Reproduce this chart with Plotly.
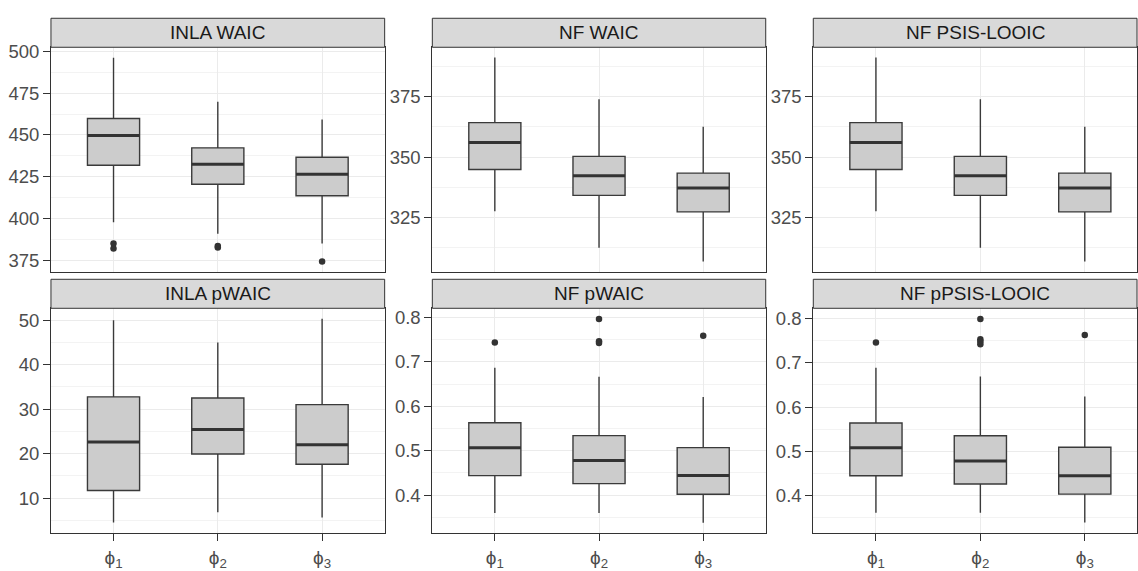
import plotly.graph_objects as go

# ---- data -----------------------------------------------------------------
categories = ["phi1", "phi2", "phi3"]
tick_labels = ["ϕ<sub>1</sub>", "ϕ<sub>2</sub>", "ϕ<sub>3</sub>"]
panel_titles = ["INLA WAIC", "NF WAIC", "NF PSIS-LOOIC",
                "INLA pWAIC", "NF pWAIC", "NF pPSIS-LOOIC"]

# INLA WAIC
inla_waic_lo = [397.8, 390.8, 385.0]
inla_waic_q1 = [431.9, 420.5, 413.6]
inla_waic_med = [449.7, 432.5, 426.5]
inla_waic_q3 = [459.9, 442.3, 436.7]
inla_waic_hi = [496.3, 469.9, 459.3]
inla_waic_out = [[385.0, 382.1], [383.6, 382.6], [374.2]]

# NF WAIC
nf_waic_lo = [327.7, 312.6, 306.9]
nf_waic_q1 = [344.9, 334.2, 327.4]
nf_waic_med = [356.0, 342.3, 337.2]
nf_waic_q3 = [364.2, 350.3, 343.4]
nf_waic_hi = [391.1, 373.9, 362.5]
nf_waic_out = [[], [], []]

# NF PSIS-LOOIC
nf_looic_lo = [327.7, 312.6, 306.9]
nf_looic_q1 = [344.9, 334.2, 327.4]
nf_looic_med = [356.0, 342.3, 337.2]
nf_looic_q3 = [364.2, 350.3, 343.4]
nf_looic_hi = [391.1, 373.9, 362.5]
nf_looic_out = [[], [], []]

# INLA pWAIC
inla_pwaic_lo = [4.5, 6.8, 5.6]
inla_pwaic_q1 = [11.7, 19.9, 17.6]
inla_pwaic_med = [22.6, 25.4, 22.0]
inla_pwaic_q3 = [32.75, 32.5, 31.0]
inla_pwaic_hi = [50.0, 45.0, 50.3]
inla_pwaic_out = [[], [], []]

# NF pWAIC
nf_pwaic_lo = [0.360, 0.360, 0.338]
nf_pwaic_q1 = [0.444, 0.426, 0.402]
nf_pwaic_med = [0.507, 0.478, 0.444]
nf_pwaic_q3 = [0.563, 0.534, 0.507]
nf_pwaic_hi = [0.687, 0.667, 0.621]
nf_pwaic_out = [[0.744], [0.797, 0.747, 0.743], [0.759]]

# NF pPSIS-LOOIC
nf_plooic_lo = [0.361, 0.361, 0.339]
nf_plooic_q1 = [0.4445, 0.426, 0.403]
nf_plooic_med = [0.508, 0.478, 0.4444]
nf_plooic_q3 = [0.564, 0.535, 0.509]
nf_plooic_hi = [0.689, 0.669, 0.624]
nf_plooic_out = [[0.746], [0.799, 0.753, 0.748, 0.742], [0.763]]

panels = [
    (inla_waic_lo, inla_waic_q1, inla_waic_med, inla_waic_q3, inla_waic_hi, inla_waic_out),
    (nf_waic_lo, nf_waic_q1, nf_waic_med, nf_waic_q3, nf_waic_hi, nf_waic_out),
    (nf_looic_lo, nf_looic_q1, nf_looic_med, nf_looic_q3, nf_looic_hi, nf_looic_out),
    (inla_pwaic_lo, inla_pwaic_q1, inla_pwaic_med, inla_pwaic_q3, inla_pwaic_hi, inla_pwaic_out),
    (nf_pwaic_lo, nf_pwaic_q1, nf_pwaic_med, nf_pwaic_q3, nf_pwaic_hi, nf_pwaic_out),
    (nf_plooic_lo, nf_plooic_q1, nf_plooic_med, nf_plooic_q3, nf_plooic_hi, nf_plooic_out),
]

# ---- layout / styling -------------------------------------------------------
W, H = 1138, 571
FONT = "Liberation Sans, Arial, Helvetica, sans-serif"
BOX_W = 0.5

# panel pixel boxes (left, right, top, bottom)
col_px = [(51, 385), (432.7, 766.4), (814, 1138)]
row_px = [(42.7, 275.0), (312.7, 545.0)]
strip_h = 30

x_ranges = [[0.4, 3.6], [0.4, 3.6], [0.4, 3.5]]
y_specs = [
    dict(range=[368.06, 502.5], tickvals=[375, 400, 425, 450, 475, 500], minor=12.5),
    dict(range=[302.66, 395.3], tickvals=[325, 350, 375], minor=12.5),
    dict(range=[302.66, 395.3], tickvals=[325, 350, 375], minor=12.5),
    dict(range=[2.17, 52.67], tickvals=[10, 20, 30, 40, 50], minor=5),
    dict(range=[0.315, 0.821], tickvals=[0.4, 0.5, 0.6, 0.7, 0.8], minor=0.05),
    dict(range=[0.3155, 0.8232], tickvals=[0.4, 0.5, 0.6, 0.7, 0.8], minor=0.05),
]

fig = go.Figure()
positions = [i + 1 for i in range(len(categories))]

for p, (lo, q1, med, q3, hi, out) in enumerate(panels):
    ax = "" if p == 0 else str(p + 1)
    xa, ya = "x" + ax, "y" + ax
    fig.add_trace(go.Box(
        x=positions, lowerfence=lo, q1=q1, median=med, q3=q3, upperfence=hi,
        width=BOX_W, whiskerwidth=0, boxpoints=False,
        fillcolor="#CCCCCC", line=dict(color="#3A3A3A", width=1.4),
        xaxis=xa, yaxis=ya, showlegend=False, hoverinfo="skip",
    ))
    # thicker median bars
    for xpos, m in zip(positions, med):
        fig.add_trace(go.Scatter(
            x=[xpos - BOX_W / 2, xpos + BOX_W / 2], y=[m, m], mode="lines",
            line=dict(color="#333333", width=3), xaxis=xa, yaxis=ya,
            showlegend=False, hoverinfo="skip",
        ))
    ox, oy = [], []
    for xpos, vals in zip(positions, out):
        ox += [xpos] * len(vals)
        oy += vals
    if oy:
        fig.add_trace(go.Scatter(
            x=ox, y=oy, mode="markers",
            marker=dict(color="#333333", size=6.5),
            xaxis=xa, yaxis=ya, showlegend=False, hoverinfo="skip",
        ))

layout = dict(
    width=W, height=H, margin=dict(l=0, r=0, t=0, b=0),
    paper_bgcolor="white", plot_bgcolor="white", showlegend=False,
    font=dict(family=FONT, color="#4D4D4D", size=18),
)
shapes, annotations = [], []

for p in range(6):
    r, c = divmod(p, 3)
    (xl, xr), (yt, yb) = col_px[c], row_px[r]
    xdom = [xl / W, xr / W]
    ydom = [(H - yb) / H, (H - yt) / H]
    ax = "" if p == 0 else str(p + 1)
    ys = y_specs[p]
    bottom_row = r == 1
    layout["xaxis" + ax] = dict(
        domain=xdom, range=x_ranges[c], anchor="y" + ax,
        tickmode="array", tickvals=positions, ticktext=tick_labels,
        showticklabels=bottom_row,
        ticks="outside" if bottom_row else "", ticklen=7, tickwidth=1, tickcolor="#333333",
        showgrid=True, gridcolor="#EBEBEB", gridwidth=1.1,
        showline=True, linecolor="#333333", linewidth=1, mirror=True,
        zeroline=False, tickfont=dict(size=19, color="#4D4D4D"),
        fixedrange=True,
    )
    layout["yaxis" + ax] = dict(
        domain=ydom, range=ys["range"], anchor="x" + ax,
        tickmode="array", tickvals=ys["tickvals"],
        ticks="outside", ticklen=7, tickwidth=1, tickcolor="#333333",
        showgrid=True, gridcolor="#EBEBEB", gridwidth=1.1,
        minor=dict(dtick=ys["minor"], tick0=0, showgrid=True,
                   gridcolor="#F3F3F3", gridwidth=0.8, ticks=""),
        showline=True, linecolor="#333333", linewidth=1, mirror=True,
        zeroline=False, tickfont=dict(size=18.5, color="#4D4D4D"),
        ticklabelstandoff=0, fixedrange=True,
    )
    # facet strip
    shapes.append(dict(
        type="rect", xref="paper", yref="paper",
        x0=xdom[0], x1=xdom[1], y0=ydom[1], y1=(H - yt + strip_h) / H,
        fillcolor="#D9D9D9", line=dict(color="#333333", width=1), layer="above",
    ))
    annotations.append(dict(
        xref="paper", yref="paper",
        x=(xl + min(xr, xl + 334)) / 2 / W, y=(H - yt + strip_h / 2) / H,
        text=panel_titles[p], showarrow=False, xanchor="center", yanchor="middle",
        font=dict(family=FONT, size=19, color="#1A1A1A"),
    ))

layout["shapes"] = shapes
layout["annotations"] = annotations
fig.update_layout(**layout)
fig.write_html("out.html", config={"displayModeBar": False})
